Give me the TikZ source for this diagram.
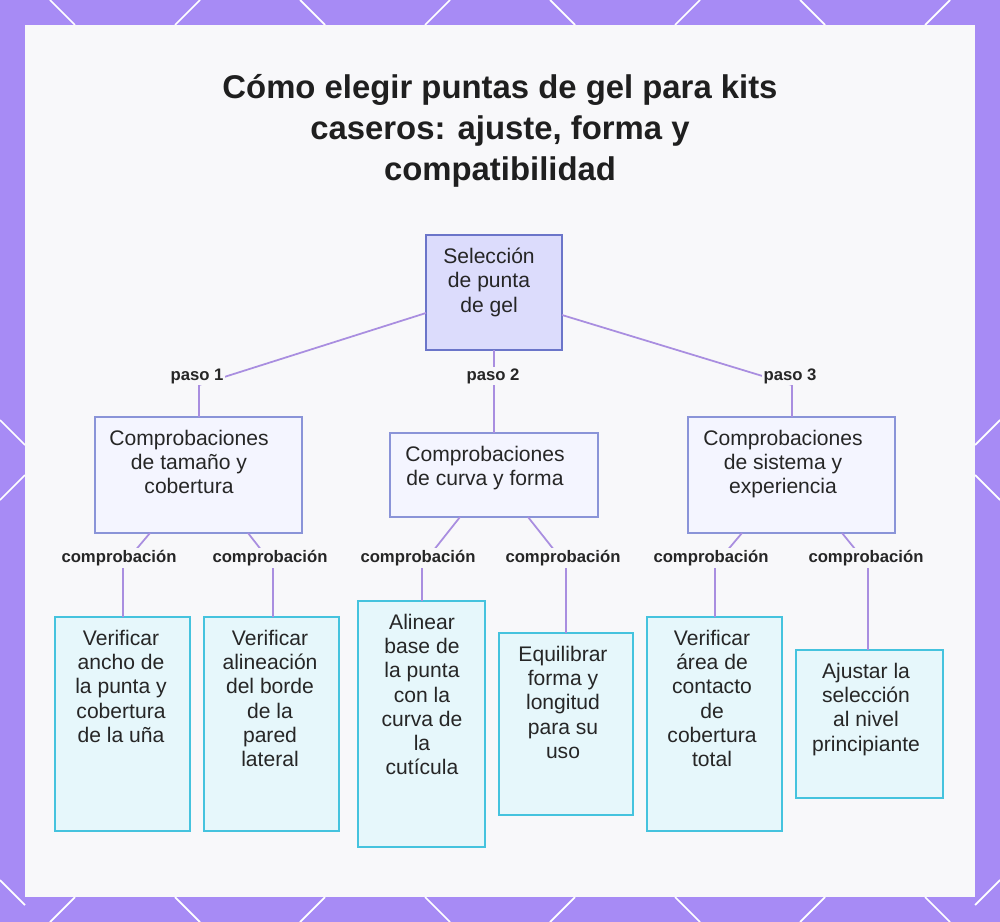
\documentclass[tikz,border=0pt]{standalone}
\usepackage{fontspec}
\setmainfont{Liberation Sans}
\definecolor{frame}{HTML}{A78BF5}
\definecolor{panel}{HTML}{F8F8FA}
\definecolor{link}{HTML}{A98EE0}
\definecolor{rootfill}{HTML}{DCDCFC}
\definecolor{rootline}{HTML}{6B75C9}
\definecolor{midfill}{HTML}{F4F5FF}
\definecolor{midline}{HTML}{8A94D8}
\definecolor{leaffill}{HTML}{E6F7FB}
\definecolor{leafline}{HTML}{45C3DE}
\begin{document}
\begin{tikzpicture}[x=0.02cm,y=-0.02cm,
	box/.style={draw,line width=0.8pt,inner sep=0pt},
	txt/.style={align=center,font=\fontsize{12}{13.8}\selectfont,text=black!85,anchor=north},
	lab/.style={font=\bfseries\fontsize{9.5}{11}\selectfont,text=black!85,fill=panel,inner sep=1pt},
	conn/.style={draw=link,line width=1pt}]
	\useasboundingbox (0,0) rectangle (1000,922);
	\fill[frame](0,0) rectangle (1000,922);
	% corner marks
	\foreach \x in {0,250,500,750}{
		\draw[white,line width=1pt](\x+50,0)--(\x+75,25);
		\draw[white,line width=1pt](\x+200,0)--(\x+175,25);
		\draw[white,line width=1pt](\x+50,922)--(\x+75,897);
		\draw[white,line width=1pt](\x+200,922)--(\x+175,897);
	}
	\foreach \y in {0,460}{
		\draw[white,line width=1pt](0,\y+420)--(25,\y+445);
		\draw[white,line width=1pt](1000,\y+420)--(975,\y+445);
		\draw[white,line width=1pt](0,\y+500)--(25,\y+475);
		\draw[white,line width=1pt](1000,\y+500)--(975,\y+475);
	}
	\fill[panel](25,25) rectangle (975,897);
	
	\node[align=center,font=\bfseries\fontsize{18.7}{23.5}\selectfont,text=black!88] (title) at (500,131)
	{Cómo elegir puntas de gel para kits\\caseros: ajuste, forma y\\compatibilidad};
	
	% boxes
	\draw[box,draw=rootline,fill=rootfill](426,235) rectangle (562,350);
	\node[txt] (root) at (489,242) {Selección\\de punta\\de gel};
	\draw[box,draw=midline,fill=midfill](95,417) rectangle (302,533);
	\node[txt] (size) at (189,424) {Comprobaciones\\de tamaño y\\cobertura};
	\draw[box,draw=midline,fill=midfill](390,433) rectangle (598,517);
	\node[txt] (curve) at (485,440) {Comprobaciones\\de curva y forma};
	\draw[box,draw=midline,fill=midfill](688,417) rectangle (895,533);
	\node[txt] (sys) at (783,424) {Comprobaciones\\de sistema y\\experiencia};
	
	\draw[box,draw=leafline,fill=leaffill](55,617) rectangle (190,831);
	\node[txt] (a) at (121,624) {Verificar\\ancho de\\la punta y\\cobertura\\de la uña};
	\draw[box,draw=leafline,fill=leaffill](204,617) rectangle (339,831);
	\node[txt] (b) at (270,624) {Verificar\\alineación\\del borde\\de la\\pared\\lateral};
	\draw[box,draw=leafline,fill=leaffill](358,601) rectangle (485,847);
	\node[txt] (c) at (422,608) {Alinear\\base de\\la punta\\con la\\curva de\\la\\cutícula};
	\draw[box,draw=leafline,fill=leaffill](499,633) rectangle (633,815);
	\node[txt] (d) at (563,640) {Equilibrar\\forma y\\longitud\\para su\\uso};
	\draw[box,draw=leafline,fill=leaffill](647,617) rectangle (782,831);
	\node[txt] (e) at (712,624) {Verificar\\área de\\contacto\\de\\cobertura\\total};
	\draw[box,draw=leafline,fill=leaffill](796,650) rectangle (943,798);
	\node[txt] (f) at (866,657) {Ajustar la\\selección\\al nivel\\principiante};
	
	% connectors
	\draw[conn](426,313)--(199,385)--(199,417);
	\draw[conn](494,350)--(494,433);
	\draw[conn](562,315)--(792,385)--(792,417);
	\draw[conn](150,533)--(123,565)--(123,617);
	\draw[conn](248,533)--(273,565)--(273,617);
	\draw[conn](460,517)--(422,565)--(422,601);
	\draw[conn](528,517)--(566,565)--(566,633);
	\draw[conn](742,533)--(715,565)--(715,617);
	\draw[conn](842,533)--(868,565)--(868,650);
	
	\node[lab] at (197,376) {paso 1};
	\node[lab] at (493,376) {paso 2};
	\node[lab] at (790,376) {paso 3};
	\foreach \x in {119,270,418,563,711,866}
		\node[lab] at (\x,558) {comprobación};
\end{tikzpicture}
\end{document}
